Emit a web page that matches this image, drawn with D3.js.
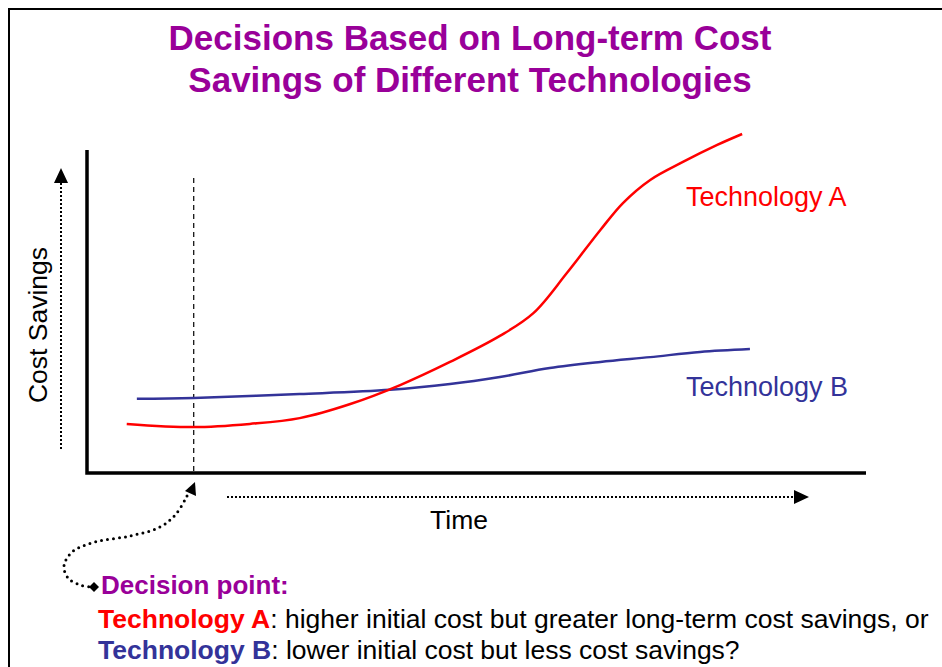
<!DOCTYPE html>
<html>
<head>
<meta charset="utf-8">
<script src="https://cdn.jsdelivr.net/npm/d3@7"></script>
<style>
  html, body { margin: 0; padding: 0; background: #fff; }
  svg { display: block; font-family: "Liberation Sans", Arial, sans-serif; }
</style>
</head>
<body>
<svg id="chart" width="942" height="667"></svg>
<script>
// ---- data ----
const titleLines = ["Decisions Based on Long-term Cost", "Savings of Different Technologies"];
const seriesNames = ["Technology A", "Technology B"];
const timeA = [5.1, 13.7, 20.9, 27.3, 33.8, 40.2, 46.6, 53.0, 57.3, 61.6, 65.9, 68.8, 72.3, 76.5, 80.9, 84.1];
const savingsA = [15.3, 14.3, 15.3, 17.1, 21.5, 27.4, 34.6, 42.7, 49.8, 62.3, 75.7, 84.1, 91.3, 96.9, 102.2, 105.6];
const timeB = [6.4, 13.7, 27.3, 38.9, 46.6, 53.0, 59.4, 65.9, 72.3, 78.7, 85.1];
const savingsB = [23.1, 23.4, 24.6, 25.9, 27.7, 29.9, 32.7, 34.6, 36.1, 37.7, 38.6];
const decisionTime = 13.7;
const axisLabels = { x: "Time", y: "Cost Savings" };
const noteHeading = "Decision point:";
const noteLines = [
  { name: "Technology A", rest: ": higher initial cost but greater long-term cost savings, or" },
  { name: "Technology B", rest: ": lower initial cost but less cost savings?" }
];
const colors = { title: "#990099", A: "#ff0000", B: "#333399" };

// ---- drawing ----
const svg = d3.select("#chart");
const x = d3.scaleLinear().domain([0, 100]).range([87, 866]);
const y = d3.scaleLinear().domain([0, 100]).range([473, 152]);

// frame
svg.append("path")
  .attr("d", "M9,667 L9,9 L942,9")
  .attr("fill", "none").attr("stroke", "#000").attr("stroke-width", 2);

// title
svg.append("g").selectAll("text").data(titleLines).join("text")
  .attr("x", 470).attr("y", (d, i) => 50 + i * 42)
  .attr("text-anchor", "middle")
  .attr("font-size", 35).attr("font-weight", "bold")
  .attr("fill", colors.title)
  .text(d => d);

// axes
svg.append("path")
  .attr("d", `M${x(0)},${y(100) - 2} L${x(0)},${y(0)} L${x(100)},${y(0)}`)
  .attr("fill", "none").attr("stroke", "#000").attr("stroke-width", 3.5);

// decision dashed line
svg.append("line")
  .attr("x1", x(decisionTime)).attr("x2", x(decisionTime))
  .attr("y1", 178).attr("y2", y(0))
  .attr("stroke", "#000").attr("stroke-width", 1.2)
  .attr("stroke-dasharray", "5,4");

// curves
const line = d3.line().x(d => x(d[0])).y(d => y(d[1])).curve(d3.curveCatmullRom.alpha(0.5));
svg.append("path").datum(d3.zip(timeB, savingsB))
  .attr("d", line).attr("fill", "none").attr("stroke", colors.B).attr("stroke-width", 2.5);
svg.append("path").datum(d3.zip(timeA, savingsA))
  .attr("d", line).attr("fill", "none").attr("stroke", colors.A).attr("stroke-width", 2.5);

// series labels
svg.append("text").attr("x", 686).attr("y", 206).attr("font-size", 27)
  .attr("fill", colors.A).text(seriesNames[0]);
svg.append("text").attr("x", 686).attr("y", 396).attr("font-size", 27)
  .attr("fill", colors.B).text(seriesNames[1]);

// y dotted arrow
svg.append("line").attr("x1", 61).attr("x2", 61).attr("y1", 183).attr("y2", 450)
  .attr("stroke", "#000").attr("stroke-width", 2).attr("stroke-dasharray", "2,2");
svg.append("path").attr("d", "M61,168 L68,183 L54,183 Z").attr("fill", "#000");

// x dotted arrow
svg.append("line").attr("x1", 227).attr("x2", 795).attr("y1", 497).attr("y2", 497)
  .attr("stroke", "#000").attr("stroke-width", 2).attr("stroke-dasharray", "2,2");
svg.append("path").attr("d", "M809,497 L794,490 L794,504 Z").attr("fill", "#000");

// axis labels
svg.append("text").attr("x", 459).attr("y", 529).attr("text-anchor", "middle")
  .attr("font-size", 26.5).attr("fill", "#000").text(axisLabels.x);
svg.append("text")
  .attr("transform", "translate(47,325) rotate(-90)")
  .attr("text-anchor", "middle").attr("font-size", 26.5).attr("fill", "#000")
  .text(axisLabels.y);

// curved dotted arrow
const curvePts = [[187,496],[176,514],[160,527],[130,536],[95,542],[72,552],[64,566],[68,578],[80,585],[92,587]];
svg.append("path")
  .attr("d", d3.line().curve(d3.curveCatmullRom)(curvePts))
  .attr("fill", "none").attr("stroke", "#000").attr("stroke-width", 3)
  .attr("stroke-linecap", "round").attr("stroke-dasharray", "0,6");
svg.append("path").attr("d", "M195,482 L196,496 L185,491 Z").attr("fill", "#000");
svg.append("path").attr("d", "M99,587 L94,592 L89,587 L94,582 Z").attr("fill", "#000");

// note text
svg.append("text").attr("x", 101).attr("y", 594).attr("font-size", 26)
  .attr("font-weight", "bold").attr("fill", colors.title).text(noteHeading);
const nt = svg.append("g").selectAll("text").data(noteLines).join("text")
  .attr("x", 98).attr("y", (d, i) => 628 + i * 31).attr("font-size", 26.5);
nt.append("tspan").attr("font-weight", "bold")
  .attr("fill", (d, i) => i === 0 ? colors.A : colors.B).text(d => d.name);
nt.append("tspan").attr("fill", "#000").text(d => d.rest);
</script>
</body>
</html>
